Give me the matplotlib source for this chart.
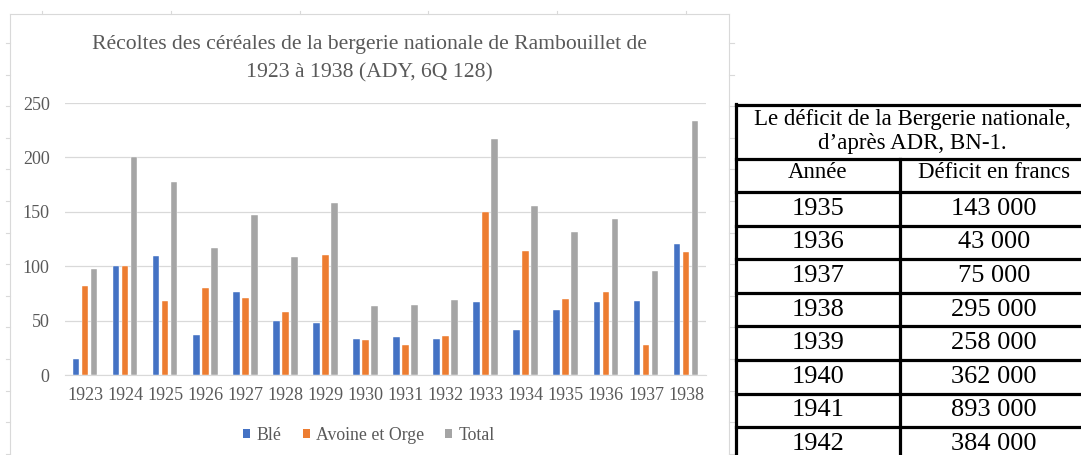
import matplotlib
matplotlib.use("Agg")
import numpy as np
import matplotlib.pyplot as plt
from matplotlib.lines import Line2D
from matplotlib.patches import Patch

# Data
years = ["1923", "1924", "1925", "1926", "1927", "1928", "1929", "1930",
         "1931", "1932", "1933", "1934", "1935", "1936", "1937", "1938"]
ble = [15, 100, 109, 37, 76, 50, 48, 33, 35, 33, 67, 41, 60, 67, 68, 120]
avoine_orge = [82, 100, 68, 80, 71, 58, 110, 32, 28, 36, 150, 114, 70, 76, 28, 113]
total = [97, 200, 177, 117, 147, 108, 158, 63, 64, 69, 217, 155, 131, 143, 96, 233]
series_names = ["Blé", "Avoine et Orge", "Total"]
yticks = [0, 50, 100, 150, 200, 250]

table_title = ["Le déficit de la Bergerie nationale,", "d’après ADR, BN-1."]
table_header = ["Année", "Déficit en francs"]
deficit_years = ["1935", "1936", "1937", "1938", "1939", "1940", "1941", "1942"]
deficit_francs = ["143 000", "43 000", "75 000", "295 000",
                  "258 000", "362 000", "893 000", "384 000"]

W, H = 1081, 455
colors = ["#4472C4", "#ED7D31", "#A5A5A5"]
txt = "#595959"
grid = "#D9D9D9"
serif = ["Liberation Serif", "DejaVu Serif"]

fig = plt.figure(figsize=(W / 100, H / 100), dpi=100)
fig.patch.set_facecolor("white")


def fx(px):
    return px / W


def fy(py):
    return 1 - py / H


# faint sheet / chart frame lines
def fline(x0, y0, x1, y1, color=grid, lw=0.8):
    fig.add_artist(Line2D([fx(x0), fx(x1)], [fy(y0), fy(y1)],
                          color=color, lw=lw, transform=fig.transFigure))


fline(10, 14, 10, H)
fline(10, 14, 729, 14)
fline(729, 14, 729, H)
for yy in np.arange(43, H, 31.6):
    fline(6, yy, 10, yy)
    fline(729, yy, 734, yy)
for xx in [42, 171, 300, 428, 557, 686]:
    fline(xx, 11, xx, 14)

# chart
ax = fig.add_axes([fx(65), fy(375), fx(706) - fx(65), fy(103) - fy(375)])
x = np.arange(len(years))
bw = 0.165
step = 0.225
for i, (vals, name) in enumerate(zip([ble, avoine_orge, total], series_names)):
    ax.bar(x + (i - 1) * step, vals, width=bw, color=colors[i],
           label=name, zorder=3, edgecolor="white", linewidth=0.3)

ax.set_xlim(-0.5, len(years) - 0.5)
ax.set_ylim(0, 250)
ax.set_yticks(yticks)
ax.set_xticks(x)
ax.set_xticklabels(years)
ax.grid(axis="y", color=grid, lw=0.9, zorder=0)
for s in ["top", "right", "left"]:
    ax.spines[s].set_visible(False)
ax.spines["bottom"].set_color(grid)
ax.tick_params(length=0, colors=txt, labelsize=13)
ax.tick_params(axis="x", pad=9)
ax.tick_params(axis="y", pad=11)
for lab in ax.get_xticklabels() + ax.get_yticklabels():
    lab.set_family(serif)

fig.text(fx(369), fy(44), "Récoltes des céréales de la bergerie nationale de Rambouillet de",
         ha="center", va="center", fontsize=15.6, color=txt, family=serif)
fig.text(fx(369), fy(73), "1923 à 1938 (ADY, 6Q 128)",
         ha="center", va="center", fontsize=15.6, color=txt, family=serif)

handles = [Patch(facecolor=c) for c in colors]
fig.legend(handles, series_names, loc="center", bbox_to_anchor=(fx(369), fy(435)),
           ncol=3, frameon=False, handlelength=0.4, handleheight=0.4,
           handletextpad=0.35, columnspacing=1.2,
           prop={"family": serif, "size": 12.8}, labelcolor=txt)

# table on the right
tl, tm, tr = 736, 900, 1088
ttop, tsub, thead = 105, 159, 192
rh = 33.6
blk = "black"
lw = 2.3
fline(tl, ttop, tr, ttop, blk, lw)
fline(tl, tsub, tr, tsub, blk, lw)
fline(tl, ttop - 1, tl, H, blk, lw)
fline(tr, ttop - 1, tr, H, blk, lw)
fline(tm, tsub, tm, H, blk, lw)
yb = thead
fline(tl, yb, tr, yb, blk, lw)
for k in range(len(deficit_years)):
    yb = thead + (k + 1) * rh
    fline(tl, yb, tr, yb, blk, lw)

tc = (tl + tr) / 2
fig.text(fx(tc), fy(119), table_title[0], ha="center", va="center",
         fontsize=16.5, color=blk, family=serif)
fig.text(fx(tc), fy(143), table_title[1], ha="center", va="center",
         fontsize=16.5, color=blk, family=serif)
c1 = (tl + tm) / 2
c2 = (tm + tr) / 2
fig.text(fx(c1), fy(173), table_header[0], ha="center", va="center",
         fontsize=16.5, color=blk, family=serif)
fig.text(fx(c2), fy(173), table_header[1], ha="center", va="center",
         fontsize=16.5, color=blk, family=serif)
for k, (yr, fr) in enumerate(zip(deficit_years, deficit_francs)):
    yc = thead + (k + 0.5) * rh
    fig.text(fx(c1), fy(yc), yr, ha="center", va="center",
             fontsize=19, color=blk, family=serif)
    fig.text(fx(c2), fy(yc), fr, ha="center", va="center",
             fontsize=19, color=blk, family=serif)

fig.savefig("out.png", dpi=100)
